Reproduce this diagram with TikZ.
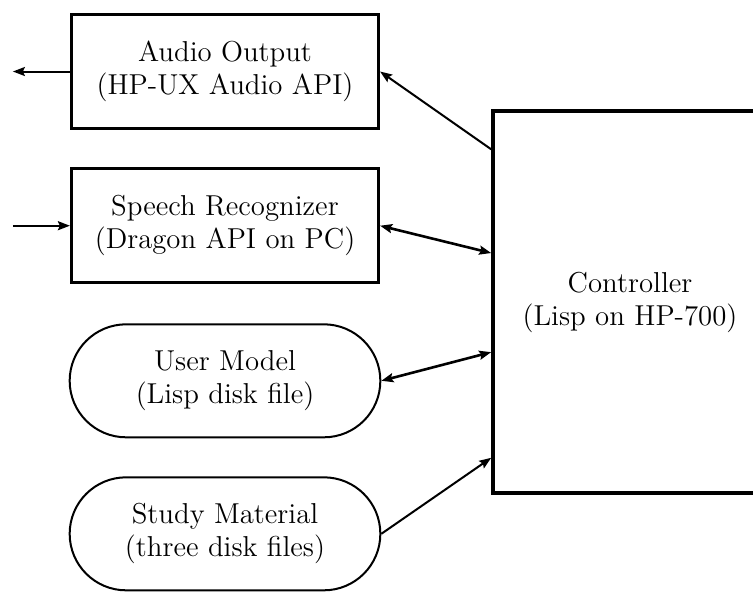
\documentclass[tikz,border=0pt]{standalone}
\usepackage{tikz}
\usetikzlibrary{shapes.misc, arrows.meta, positioning, calc}
\tikzstyle{iobox} = [rectangle, minimum width=153.5pt, minimum height=57pt,
  align=center, draw=black, line width=1.6pt, font=\fontsize{14.4}{16.5}\selectfont]
\tikzstyle{filebox} = [rounded rectangle, minimum width=162pt, minimum height=56.5pt,
  align=center, draw=black, line width=1pt, font=\fontsize{14.4}{16.5}\selectfont]
\tikzstyle{ctrlbox} = [rectangle, minimum width=137pt, minimum height=191pt,
  align=center, draw=black, line width=1.8pt, font=\fontsize{14.4}{16.5}\selectfont]
\tikzstyle{arrow} = [line width=1pt, -{Stealth[length=6pt,width=4.5pt,inset=1pt]}]
\tikzstyle{biarrow} = [line width=1.3pt,
  {Stealth[length=6pt,width=4.5pt,inset=1pt]}-{Stealth[length=6pt,width=4.5pt,inset=1pt]}]

\begin{document}
\begin{tikzpicture}
  \clip (0,0) rectangle (376.5pt,-295.5pt);

  % Audio output
  \node (audio) [iobox] at (112.5pt,-35.75pt) {Audio Output\\(HP-UX Audio API)};

  % Speech recognizer
  \node (speech) [iobox, below=18.5pt of audio] {Speech Recognizer\\(Dragon API on PC)};

  % Disk files
  \node (user) [filebox, below=19.5pt of speech] {User Model\\(Lisp disk file)};
  \node (study) [filebox, below=19pt of user] {Study Material\\(three disk files)};

  % Controller
  \node (ctrl) [ctrlbox] at (315pt,-151pt) {Controller\\(Lisp on HP-700)};

  % Outside ends
  \coordinate [left=28.5pt of audio.west] (sndout);
  \coordinate [left=28.5pt of speech.west] (micin);

  % Arrows
  \draw[arrow] (audio) -- (sndout);
  \draw[arrow] (micin) -- (speech);
  \draw[arrow] ($(ctrl.north west)!0.104!(ctrl.south west)$) -- (audio.east);
  \draw[biarrow] (speech.east) -- ($(ctrl.north west)!0.373!(ctrl.south west)$);
  \draw[biarrow] (user.east) -- ($(ctrl.north west)!0.63!(ctrl.south west)$);
  \draw[arrow] (study.east) -- ($(ctrl.north west)!0.904!(ctrl.south west)$);
\end{tikzpicture}
\end{document}
